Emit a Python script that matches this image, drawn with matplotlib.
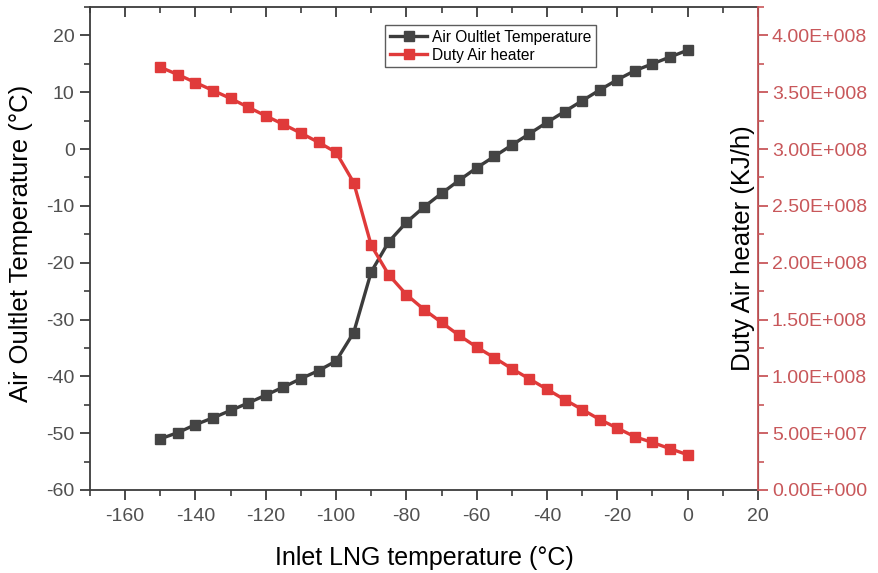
import numpy as np
import matplotlib.pyplot as plt
from matplotlib.ticker import MultipleLocator, FuncFormatter

plt.rcParams['font.family'] = ['Liberation Sans', 'DejaVu Sans']
plt.rcParams['axes.unicode_minus'] = False

# inlet LNG temperature, degC
inlet_temp = [-150, -145, -140, -135, -130, -125, -120, -115, -110, -105,
              -100, -95, -90, -85, -80, -75, -70, -65, -60, -55,
              -50, -45, -40, -35, -30, -25, -20, -15, -10, -5, 0]
# air outlet temperature, degC
outlet_temp = [-51.0, -49.9, -48.5, -47.3, -46.0, -44.7, -43.3, -41.9, -40.4, -39.0,
               -37.3, -32.3, -21.6, -16.3, -12.9, -10.2, -7.8, -5.5, -3.3, -1.3,
               0.7, 2.7, 4.7, 6.6, 8.5, 10.4, 12.2, 13.8, 15.0, 16.2, 17.4]
# air heater duty, kJ/h
duty = [3.72e8, 3.655e8, 3.585e8, 3.515e8, 3.445e8, 3.368e8, 3.292e8, 3.217e8, 3.14e8, 3.059e8,
        2.971e8, 2.705e8, 2.152e8, 1.892e8, 1.719e8, 1.588e8, 1.474e8, 1.36e8, 1.257e8, 1.164e8,
        1.067e8, 0.977e8, 0.886e8, 0.795e8, 0.708e8, 0.62e8, 0.544e8, 0.468e8, 0.418e8, 0.363e8, 0.31e8]

dark = '#3c3c3c'
red = '#e03a3a'
axis_red = '#c8575a'
tick_grey = '#505050'


def sci_fmt(v, pos):
    if v <= 0:
        return '0.00E+000'
    e = int(np.floor(np.log10(v)))
    return '{:.2f}E+{:03d}'.format(v / 10 ** e, e)


fig = plt.figure(figsize=(8.79, 5.73), dpi=100)
ax = fig.add_axes([0.1024, 0.1449, 0.7599, 0.8429])
ax2 = ax.twinx()

l1, = ax.plot(inlet_temp, outlet_temp, color=dark, lw=2.4, marker='s', ms=6.5,
              markerfacecolor='#444444', markeredgecolor='#444444', label='Air Oultlet Temperature')
l2, = ax2.plot(inlet_temp, duty, color=red, lw=2.4, marker='s', ms=6.5,
               markerfacecolor=red, markeredgecolor=red, label='Duty Air heater')

ax.set_xlim(-170, 20)
ax.set_ylim(-60, 25)
ax2.set_ylim(0, 4.25e8)

ax.xaxis.set_major_locator(MultipleLocator(20))
ax.xaxis.set_minor_locator(MultipleLocator(10))
ax.yaxis.set_major_locator(MultipleLocator(10))
ax.yaxis.set_minor_locator(MultipleLocator(5))
ax2.yaxis.set_major_locator(MultipleLocator(0.5e8))
ax2.yaxis.set_minor_locator(MultipleLocator(0.25e8))
ax2.yaxis.set_major_formatter(FuncFormatter(sci_fmt))

for s in ['left', 'bottom', 'top']:
    ax.spines[s].set_color(dark)
    ax.spines[s].set_linewidth(1.3)
ax2.spines['right'].set_color(axis_red)
ax2.spines['right'].set_linewidth(1.3)
for s in ['left', 'bottom', 'top']:
    ax2.spines[s].set_visible(False)

ax.tick_params(axis='both', which='major', length=7, width=1.3, color=dark,
               labelsize=14, labelcolor=tick_grey)
ax.tick_params(axis='both', which='minor', length=4, width=1.2, color=dark)
ax.tick_params(axis='x', which='major', pad=6)
ax.tick_params(axis='y', which='major', pad=4)
ax.tick_params(axis='x', which='both', top=True)
ax2.tick_params(axis='y', which='major', length=7, width=1.3, color=axis_red,
                labelsize=14, labelcolor=axis_red, pad=3)
ax2.tick_params(axis='y', which='minor', length=4, width=1.2, color=axis_red)
# top ticks point into the plot
for t in ax.xaxis.get_major_ticks() + ax.xaxis.get_minor_ticks():
    t.tick2line.set_marker(3)

ax.set_xlabel('Inlet LNG temperature (°C)', fontsize=18, labelpad=15)
ax.set_ylabel('Air Oultlet Temperature (°C)', fontsize=18.5)
ax.yaxis.set_label_coords(-0.086, 0.51)
ax2.set_ylabel('Duty Air heater (KJ/h)', fontsize=18.5)
ax2.yaxis.set_label_coords(0.96, 0.5)

leg = ax.legend(handles=[l1, l2], loc='upper left', bbox_to_anchor=(0.442, 0.963),
                fontsize=11.2, frameon=True, fancybox=False, edgecolor='#333333',
                handlelength=2.4, handletextpad=0.3, borderpad=0.3, labelspacing=0.2,
                borderaxespad=0)
leg.get_frame().set_linewidth(1.0)

fig.savefig('out.png', dpi=100)
